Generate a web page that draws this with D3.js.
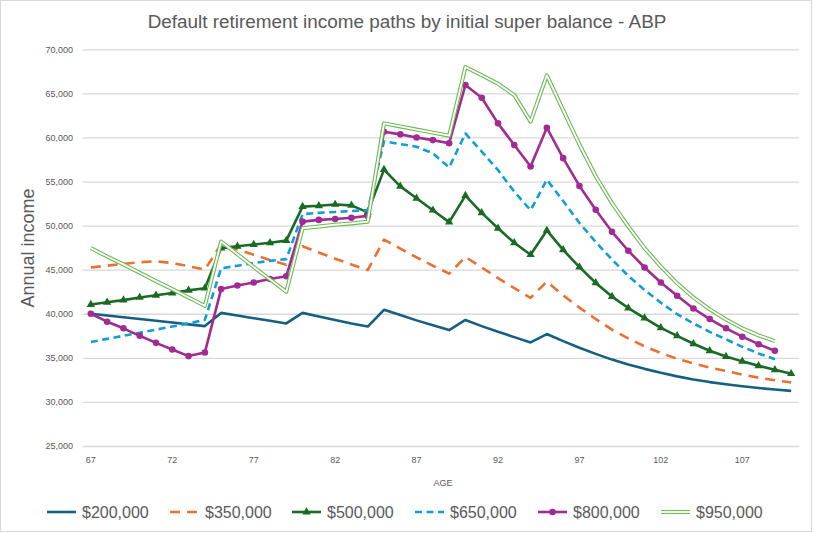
<!DOCTYPE html>
<html>
<head>
<meta charset="utf-8">
<script src="https://cdn.jsdelivr.net/npm/d3@7"></script>
<style>
  body { margin: 0; background: #ffffff; }
  text { font-family: "Liberation Sans", Arial, sans-serif; fill: #595959; }
</style>
</head>
<body>
<svg id="chart"></svg>
<script>
const width = 814;
const height = 533;

// Categories (age)
const ages = [67, 68, 69, 70, 71, 72, 73, 74, 75, 76, 77, 78, 79, 80, 81, 82, 83, 84, 85, 86, 87, 88,
    89, 90, 91, 92, 93, 94, 95, 96, 97, 98, 99, 100, 101, 102, 103, 104, 105, 106, 107, 108, 109, 110];
const ageTicks = [67, 72, 77, 82, 87, 92, 97, 102, 107];
const incomeTicks = [25000, 30000, 35000, 40000, 45000, 50000, 55000, 60000, 65000, 70000];

// Annual income by initial balance, one value per age starting at 67
const bal200 = [40000, 39800, 39600, 39400, 39200, 39000, 38800, 38600, 40100, 39800, 39500, 39200, 38900,
    40100, 39700, 39300, 38900, 38550, 40450, 39850, 39250, 38700, 38150, 39300, 38600, 37950, 37350, 36750,
    37700, 36900, 36150, 35450, 34800, 34250, 33750, 33300, 32900, 32550, 32250, 32000, 31780, 31580, 31400, 31250];
const bal350 = [45250, 45450, 45650, 45850, 45950, 45750, 45400, 45000, 47900, 47300, 46700, 46100, 45550,
    47650, 46950, 46250, 45600, 44950, 48400, 47400, 46400, 45450, 44550, 46450, 45250, 44050, 42900, 41800,
    43650, 42100, 40700, 39400, 38200, 37200, 36300, 35550, 34900, 34350, 33900, 33500, 33100, 32750, 32450, 32200];
const bal500 = [41050, 41300, 41550, 41850, 42100, 42350, 42650, 42900, 47450, 47650, 47850, 48050, 48300,
    52150, 52250, 52400, 52300, 51500, 56350, 54450, 53100, 51750, 50400, 53400, 51450, 49700, 48050, 46700,
    49450, 47250, 45300, 43500, 41950, 40650, 39500, 38400, 37500, 36600, 35800, 35150, 34600, 34100, 33650, 33200];
const bal650 = [36800, 37150, 37500, 37850, 38200, 38550, 38900, 39300, 45150, 45450, 45750, 46000, 46200,
    51300, 51450, 51550, 51650, 51750, 59550, 59250, 58950, 58200, 56600, 60450, 58400, 56300, 53850, 51750,
    55200, 52800, 50300, 48150, 46150, 44300, 42700, 41250, 39950, 38900, 37950, 37100, 36250, 35500, 34850];
const bal800 = [40000, 39100, 38350, 37500, 36700, 35950, 35200, 35600, 42800, 43200, 43550, 43950, 44250,
    50450, 50650, 50750, 50900, 51100, 60650, 60350, 60000, 59700, 59350, 65950, 64500, 61600, 59150, 56700,
    61100, 57650, 54500, 51800, 49300, 47150, 45250, 43550, 42050, 40600, 39400, 38350, 37400, 36550, 35800];
const bal950 = [47450, 46500, 45600, 44650, 43700, 42800, 41850, 40900, 48200, 46750, 45300, 43900, 42500,
    49700, 49900, 50100, 50250, 50450, 61600, 61250, 60900, 60550, 60200, 68000, 67050, 66100, 64800, 61800,
    67050, 63100, 59200, 55600, 52550, 49900, 47450, 45350, 43450, 41850, 40500, 39350, 38350, 37550, 36900];

const seriesNames = ["$200,000", "$350,000", "$500,000", "$650,000", "$800,000", "$950,000"];

const plot = {left: 82.7, right: 799.3, top: 49.3, bottom: 446};

// Line look per series
const styles = [
    {color: "#156082", width: 2.6, dash: null, marker: null},
    {color: "#E97132", width: 2.6, dash: "10,7", marker: null},
    {color: "#196B24", width: 2.6, dash: null, marker: "triangle"},
    {color: "#0F9ED5", width: 2.6, dash: "7,4.5", marker: null},
    {color: "#A02B93", width: 2.6, dash: null, marker: "circle"},
    {color: "#6BB952", width: 4, dash: null, marker: "double"}
];

let svg;

function makeChart()
{
    svg = d3.select("#chart")
        .attr("width", width)
        .attr("height", height);

    // chart frame
    svg.append("rect")
        .attr("x", 0.5).attr("y", 0.5)
        .attr("width", 811).attr("height", 531)
        .attr("fill", "#ffffff")
        .attr("stroke", "#d9d9d9");

    let x = d3.scaleBand()
        .domain(ages)
        .range([plot.left, plot.right]);
    let xPos = (a) => x(a) + x.bandwidth() / 2;

    let y = d3.scaleLinear()
        .domain([25000, 70000])
        .range([plot.bottom, plot.top]);

    // gridlines
    svg.append("g")
        .attr("transform", "translate(" + plot.left + ",0)")
        .call(d3.axisLeft(y).tickValues(incomeTicks).tickSize(-(plot.right - plot.left)).tickFormat(""))
        .call(g => g.select(".domain").remove())
        .call(g => g.selectAll("line").attr("stroke", "#d9d9d9").attr("stroke-width", 1.3));

    // y axis labels
    svg.append("g")
        .attr("transform", "translate(" + 73 + ",0)")
        .call(d3.axisLeft(y).tickValues(incomeTicks).tickSize(0).tickPadding(0).tickFormat(d3.format(",")))
        .call(g => g.select(".domain").remove())
        .call(g => g.selectAll("text").attr("font-size", 9).style("fill", "#595959")
            .style("font-family", "'Liberation Sans', Arial, sans-serif"));

    // x axis labels
    svg.append("g")
        .attr("transform", "translate(0," + 456.5 + ")")
        .call(d3.axisBottom(x).tickValues(ageTicks).tickSize(0).tickPadding(0))
        .call(g => g.select(".domain").remove())
        .call(g => g.selectAll("text").attr("font-size", 9).style("fill", "#595959")
            .style("font-family", "'Liberation Sans', Arial, sans-serif"));

    // titles
    svg.append("text")
        .attr("x", 407).attr("y", 28)
        .attr("text-anchor", "middle")
        .attr("font-size", 18.9)
        .text("Default retirement income paths by initial super balance - ABP");

    svg.append("text")
        .attr("transform", "translate(34,248) rotate(-90)")
        .attr("text-anchor", "middle")
        .attr("font-size", 18)
        .text("Annual income");

    svg.append("text")
        .attr("x", 443).attr("y", 486)
        .attr("text-anchor", "middle")
        .attr("font-size", 9)
        .text("AGE");

    let allSeries = [bal200, bal350, bal500, bal650, bal800, bal950];

    let line = d3.line()
        .x((d, i) => xPos(ages[i]))
        .y(d => y(d));

    allSeries.forEach((values, s) => drawSeries(values, styles[s], line, xPos, y));

    makeLegend();
}

function drawSeries(values, st, line, xPos, y)
{
    let g = svg.append("g");
    g.append("path")
        .datum(values)
        .attr("d", line)
        .attr("fill", "none")
        .attr("stroke", st.color)
        .attr("stroke-width", st.width)
        .attr("stroke-linejoin", "round")
        .attr("stroke-dasharray", st.dash);

    if (st.marker === "double")
    {
        // white core gives the compound line look
        g.append("path")
            .datum(values)
            .attr("d", line)
            .attr("fill", "none")
            .attr("stroke", "#ffffff")
            .attr("stroke-width", 1.8)
            .attr("stroke-linejoin", "round");
    }
    else if (st.marker === "circle")
    {
        g.selectAll("circle")
            .data(values)
            .join("circle")
            .attr("cx", (d, i) => xPos(ages[i]))
            .attr("cy", d => y(d))
            .attr("r", 3.3)
            .attr("fill", st.color);
    }
    else if (st.marker === "triangle")
    {
        let tri = d3.symbol().type(d3.symbolTriangle).size(30);
        g.selectAll("path.mk")
            .data(values)
            .join("path")
            .attr("class", "mk")
            .attr("d", tri)
            .attr("transform", (d, i) => "translate(" + xPos(ages[i]) + "," + y(d) + ")")
            .attr("fill", st.color);
    }
}

function makeLegend()
{
    let legendX = [47, 170, 292, 415, 538, 661];
    let legendY = 512;

    seriesNames.forEach((name, i) =>
    {
        let st = styles[i];
        let g = svg.append("g").attr("transform", "translate(" + legendX[i] + "," + legendY + ")");
        g.append("line")
            .attr("x1", 0).attr("x2", 29)
            .attr("stroke", st.color)
            .attr("stroke-width", st.width)
            .attr("stroke-dasharray", st.dash);
        if (st.marker === "double")
        {
            g.append("line").attr("x1", 0).attr("x2", 29)
                .attr("stroke", "#ffffff").attr("stroke-width", 1.8);
        }
        else if (st.marker === "circle")
        {
            g.append("circle").attr("cx", 14.5).attr("r", 3.3).attr("fill", st.color);
        }
        else if (st.marker === "triangle")
        {
            g.append("path").attr("d", d3.symbol().type(d3.symbolTriangle).size(30))
                .attr("transform", "translate(14.5,0)").attr("fill", st.color);
        }
        g.append("text")
            .attr("x", 35).attr("y", 5.5)
            .attr("font-size", 16)
            .text(name);
    });
}

makeChart();
</script>
</body>
</html>
